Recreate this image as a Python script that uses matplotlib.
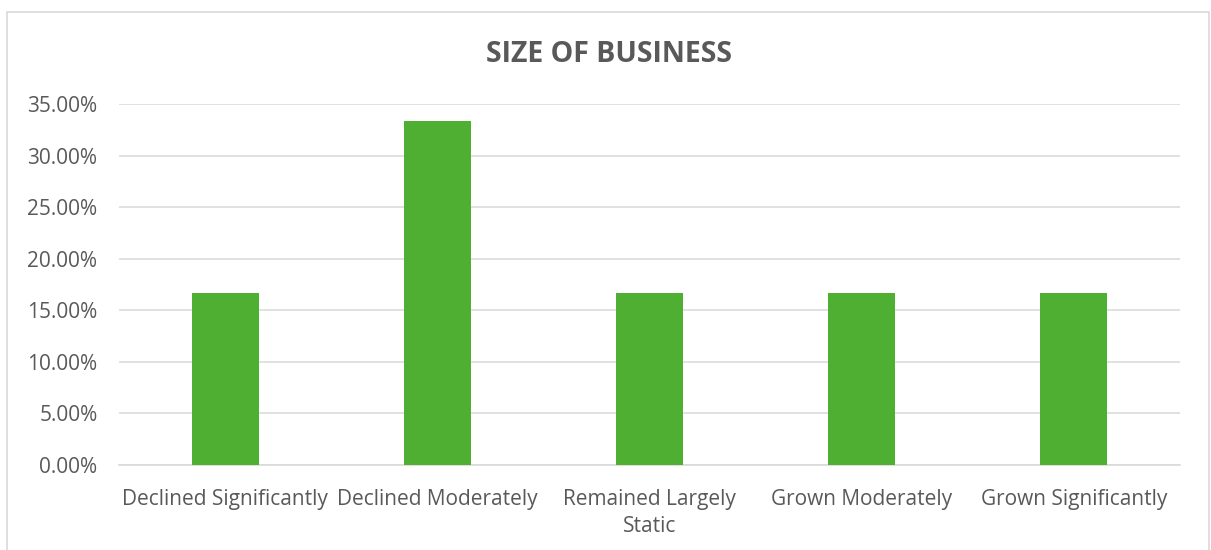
import matplotlib
matplotlib.use("Agg")
import matplotlib.pyplot as plt
from matplotlib.patches import Rectangle
from matplotlib.ticker import FuncFormatter, MultipleLocator

categories = ["Declined Significantly", "Declined Moderately", "Remained Largely\nStatic",
              "Grown Moderately", "Grown Significantly"]
values = [0.1667, 0.3333, 0.1667, 0.1667, 0.1667]
title = "SIZE OF BUSINESS"

W, H = 1211, 550
fig = plt.figure(figsize=(W / 100, H / 100), dpi=100)
plt.rcParams['font.family'] = ['Open Sans', 'DejaVu Sans']
txt = "#595959"

# outer chart border
fig.patches.append(Rectangle((7 / W, -0.05), (1209 - 7) / W, 1.05 - 12 / H,
                             transform=fig.transFigure, fill=False,
                             edgecolor="#d9d9d9", linewidth=1.2))

ax = fig.add_axes([119 / W, 1 - 465 / H, (1180 - 119) / W, (465 - 104) / H])
x = range(len(categories))
ax.bar(x, values, width=0.316, color="#4FAF33", zorder=3)
ax.set_xlim(-0.5, len(categories) - 0.5)
ax.set_ylim(0, 0.35)
ax.yaxis.set_major_locator(MultipleLocator(0.05))
ax.yaxis.set_major_formatter(FuncFormatter(lambda v, p: f"{v * 100:.2f}%"))
ax.grid(axis="y", color="#d9d9d9", linewidth=1.1, zorder=0)
for s in ["left", "right", "top"]:
    ax.spines[s].set_visible(False)
ax.spines["bottom"].set_color("#d9d9d9")
ax.spines["bottom"].set_linewidth(1.2)
ax.tick_params(axis="both", length=0, labelsize=15, colors=txt)
ax.tick_params(axis="y", pad=15.5)
ax.tick_params(axis="x", pad=17)
ax.set_xticks(list(x))
ax.set_xticklabels(categories, linespacing=1.4)

fig.text(609 / W, 1 - 54 / H, title, ha="center", va="center", fontsize=20.5,
         fontweight="bold", color=txt)

fig.savefig("out.png", dpi=100, facecolor="white")
